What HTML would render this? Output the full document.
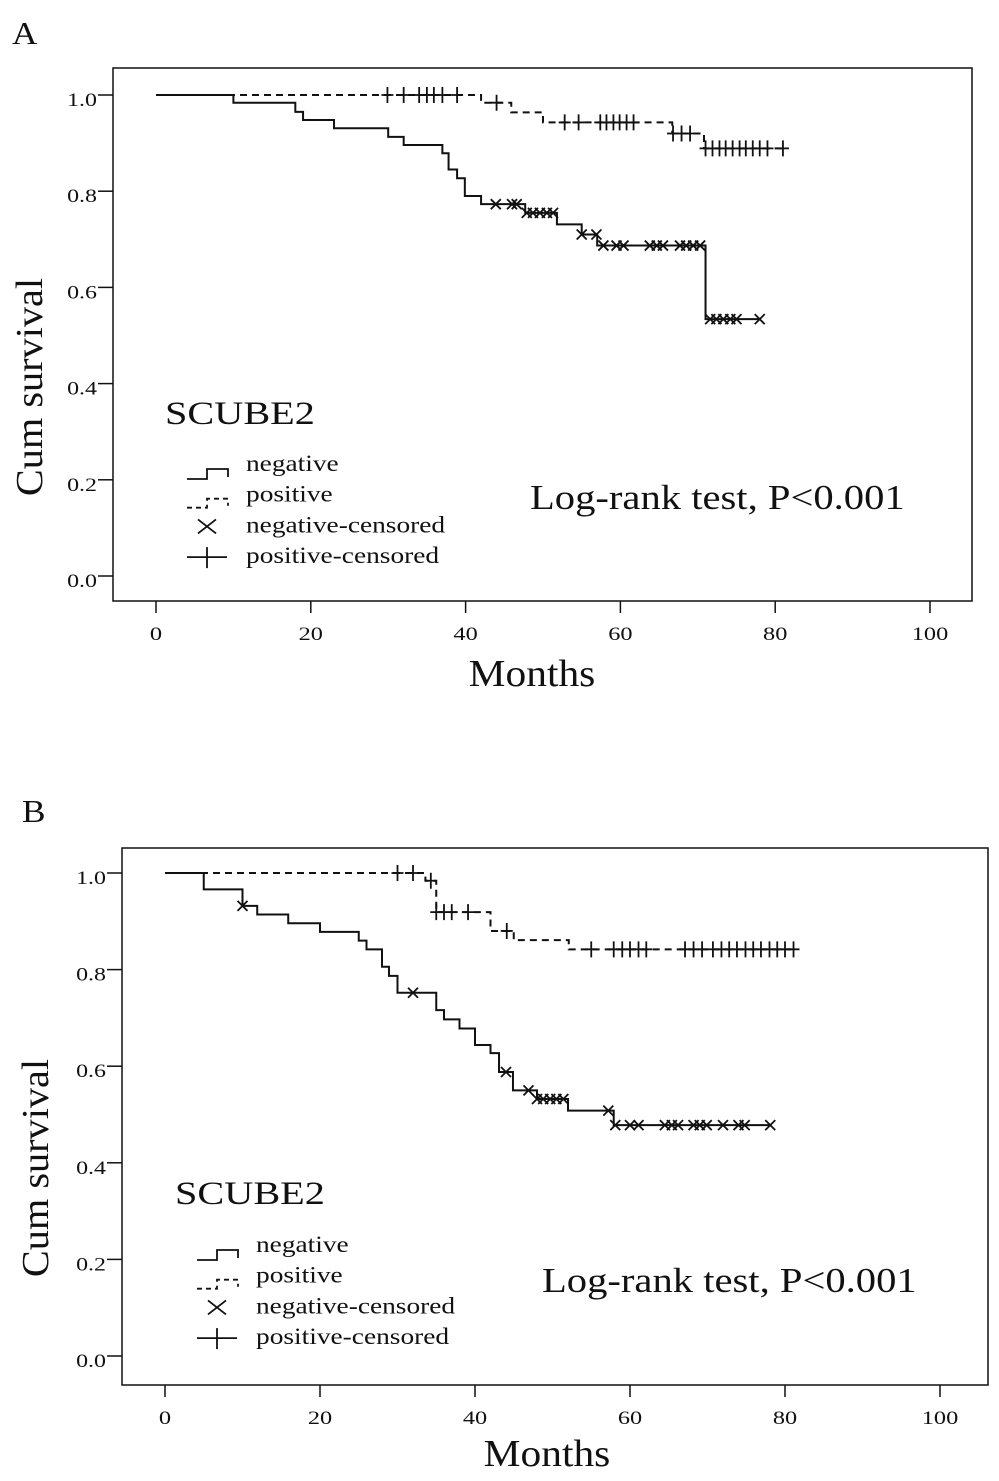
<!DOCTYPE html>
<html><head><meta charset="utf-8">
<style>
html,body{margin:0;padding:0;background:#fff;}
svg{display:block;}
text{font-family:"Liberation Serif",serif;fill:#111;}
</style></head>
<body>
<svg id="fig" width="999" height="1481" viewBox="0 0 999 1481"></svg>
<script>
// ---- Panel A data ----
const xTicks = [0,20,40,60,80,100];
const yTicks = [0.0,0.2,0.4,0.6,0.8,1.0];
const yTickLabels = ["0.0","0.2","0.4","0.6","0.8","1.0"];
const A_negT = [0,10,18,19,23,30,32,37,37.8,38.9,39.9,42,47.7,51.8,55,57,71];
const A_negS = [1.0,0.984,0.965,0.948,0.931,0.913,0.896,0.879,0.845,0.827,0.79,0.773,0.755,0.731,0.71,0.687,0.534];
const A_negCens = [43.9,46,46.6,47.9,48.7,49.6,50.5,51.3,55,56.9,57.8,59.5,60.4,63.8,64.7,65.5,67.7,68.5,69.4,70.3,71.6,72.4,73.3,74.2,75,78];
const A_negEnd = 78;
const A_posT = [0,42,45.9,50,66.7,70.8];
const A_posS = [1.0,0.984,0.964,0.943,0.92,0.889];
const A_posCens = [29.9,32,34,35,35.9,37,38.9,44,52.8,54.6,57.4,58.2,59.1,59.9,60.8,61.7,66.8,67.9,69,71,71.9,72.8,73.6,74.5,75.4,76.2,77.1,78,79,81];
const A_posEnd = 81.5;
// ---- Panel B data ----
const B_negT = [0,5,10,11.9,15.9,20,25,26,28,28.9,30,35,36,38,40,42,43.1,44.9,48,52,57.9];
const B_negS = [1.0,0.966,0.932,0.914,0.896,0.878,0.86,0.842,0.806,0.787,0.752,0.716,0.697,0.678,0.644,0.627,0.588,0.55,0.532,0.508,0.478];
const B_negCens = [10,32,44,46.9,48,48.8,49.7,50.5,51.4,57.2,58.1,60,61.1,64.5,65.4,66.2,68.2,69,69.9,72,74,74.8,78.1];
const B_negEnd = 78.1;
const B_posT = [0,33.6,35,42,45,52.1];
const B_posS = [1.0,0.984,0.919,0.88,0.861,0.842];
const B_posCens = [30,32,34.3,35,36,37,39.1,44.1,55,57.9,59,60,61.1,62.1,67.1,68.2,69.3,70.7,71.8,72.8,73.8,74.9,75.9,76.9,78,79,80,81.1];
const B_posEnd = 81.5;

const NS="http://www.w3.org/2000/svg";
const svg=document.getElementById('fig');
function mk(tag,attrs,parent,txt){const e=document.createElementNS(NS,tag);for(const k in attrs)e.setAttribute(k,attrs[k]);if(txt!==undefined)e.textContent=txt;(parent||svg).appendChild(e);return e;}
function stretch(t,k){const w=t.getComputedTextLength();if(w>0){t.setAttribute('textLength',(w*k).toFixed(1));t.setAttribute('lengthAdjust','spacingAndGlyphs');}}

function panel(cfg){
  const g=mk('g',{});
  
  
  const X=t=>cfg.x0+t*cfg.px;
  const Y=s=>cfg.y0-s*cfg.py;
  const lbl=mk('text',{x:cfg.letterX,y:cfg.letterY,'font-size':32},g,cfg.letter);
  
  
  stretch(lbl,1.1);
  const box=mk('rect',{x:cfg.bx,y:cfg.by,width:cfg.bw,height:cfg.bh,fill:'none',stroke:'#111','stroke-width':1.5},g);
  
  
  xTicks.forEach(v=>{
    const l=mk('line',{x1:X(v),x2:X(v),y1:cfg.by+cfg.bh,y2:cfg.by+cfg.bh+12,stroke:'#111','stroke-width':1.5},g);
    
    
    const t=mk('text',{x:X(v),y:cfg.by+cfg.bh+39,'font-size':19,'text-anchor':'middle'},g,String(v));
    
    
    stretch(t,1.28);
  });
  yTicks.forEach((v,i)=>{
    const l=mk('line',{x1:cfg.bx-15,x2:cfg.bx,y1:Y(v),y2:Y(v),stroke:'#111','stroke-width':1.5},g);
    
    
    const t=mk('text',{x:cfg.bx-16,y:Y(v)+11,'font-size':19,'text-anchor':'end'},g,yTickLabels[i]);
    
    
    stretch(t,1.26);
  });
  const xt=mk('text',{x:cfg.xtX,y:cfg.xtY,'font-size':38,'text-anchor':'middle'},g,'Months');
  
  
  stretch(xt,1.09);
  const yt=mk('text',{x:0,y:0,'font-size':38,'text-anchor':'middle',transform:`translate(${cfg.ytX},${cfg.ytY}) rotate(-90)`},g,'Cum survival');
  
  
  stretch(yt,1.06);
  function stepPath(T,S,end){
    let d=`M${X(T[0])},${Y(S[0])}`;
    for(let i=1;i<T.length;i++){d+=` H${X(T[i])} V${Y(S[i])}`;}
    d+=` H${X(end)}`;return d;
  }
  function survAt(T,S,t){let s=S[0];for(let i=0;i<T.length;i++){if(T[i]<=t)s=S[i];}return s;}
  const np=mk('path',{d:stepPath(cfg.negT,cfg.negS,cfg.negEnd),fill:'none',stroke:'#111','stroke-width':2},g);
  
  
  const pp=mk('path',{d:stepPath(cfg.posT,cfg.posS,cfg.posEnd),fill:'none',stroke:'#111','stroke-width':2,'stroke-dasharray':'7,5'},g);
  
  
  cfg.negCens.forEach(t=>{
    const cx=X(t),cy=Y(survAt(cfg.negT,cfg.negS,t));
    const m=mk('path',{d:`M${cx-5},${cy-5} L${cx+5},${cy+5} M${cx-5},${cy+5} L${cx+5},${cy-5}`,stroke:'#111','stroke-width':1.8,fill:'none'},g);
    
    
  });
  cfg.posCens.forEach(t=>{
    const cx=X(t),cy=Y(survAt(cfg.posT,cfg.posS,t));
    const m=mk('path',{d:`M${cx},${cy-8} V${cy+8} M${cx-6},${cy} H${cx+6}`,stroke:'#111','stroke-width':1.8,fill:'none'},g);
    
    
  });
  const sc=mk('text',{x:cfg.scX,y:cfg.scY,'font-size':33},g,'SCUBE2');
  
  
  stretch(sc,1.22);
  const lx=cfg.legX, ly=cfg.legY, rh=30.7;
  const names=['negative','positive','negative-censored','positive-censored'];
  names.forEach((n,i)=>{
    const cy=ly+i*rh;
    let icon;
    if(i===0) icon=mk('path',{d:`M${lx},${cy+16} H${lx+20} V${cy+6} H${lx+41} V${cy+14}`,fill:'none',stroke:'#111','stroke-width':1.8},g);
    else if(i===1) icon=mk('path',{d:`M${lx},${cy+14} H${lx+20} V${cy+5} H${lx+41} V${cy+12}`,fill:'none',stroke:'#111','stroke-width':1.8,'stroke-dasharray':'5,4'},g);
    else if(i===2) icon=mk('path',{d:`M${lx+11},${cy-5} L${lx+29},${cy+9} M${lx+11},${cy+9} L${lx+29},${cy-5}`,fill:'none',stroke:'#111','stroke-width':1.8},g);
    else icon=mk('path',{d:`M${lx+20},${cy-8} V${cy+13} M${lx},${cy+2} H${lx+40}`,fill:'none',stroke:'#111','stroke-width':1.8},g);
    
    
    const t=mk('text',{x:lx+59,y:cy+8,'font-size':23},g,n);
    
    
    stretch(t,1.19);
  });
  const lr=mk('text',{x:cfg.lrX,y:cfg.lrY,'font-size':35},g,'Log-rank test, P<0.001');
  
  
  stretch(lr,1.16);
}

panel({name:'panel-a',letter:'A',letterX:12,letterY:44,bx:113,by:68,bw:859,bh:533,x0:156,px:7.74,y0:576,py:481,
  xtX:532,xtY:686,ytX:42,ytY:387,scX:165,scY:424,legX:187,legY:463,lrX:530,lrY:509,
  negT:A_negT,negS:A_negS,negCens:A_negCens,negEnd:A_negEnd,posT:A_posT,posS:A_posS,posCens:A_posCens,posEnd:A_posEnd});
panel({name:'panel-b',letter:'B',letterX:22,letterY:822,bx:122,by:848,bw:866,bh:537,x0:165,px:7.75,y0:1356,py:483,
  xtX:547,xtY:1466,ytX:48,ytY:1168,scX:175,scY:1204,legX:197,legY:1244,lrX:542,lrY:1292,
  negT:B_negT,negS:B_negS,negCens:B_negCens,negEnd:B_negEnd,posT:B_posT,posS:B_posS,posCens:B_posCens,posEnd:B_posEnd});
</script>
</body></html>
